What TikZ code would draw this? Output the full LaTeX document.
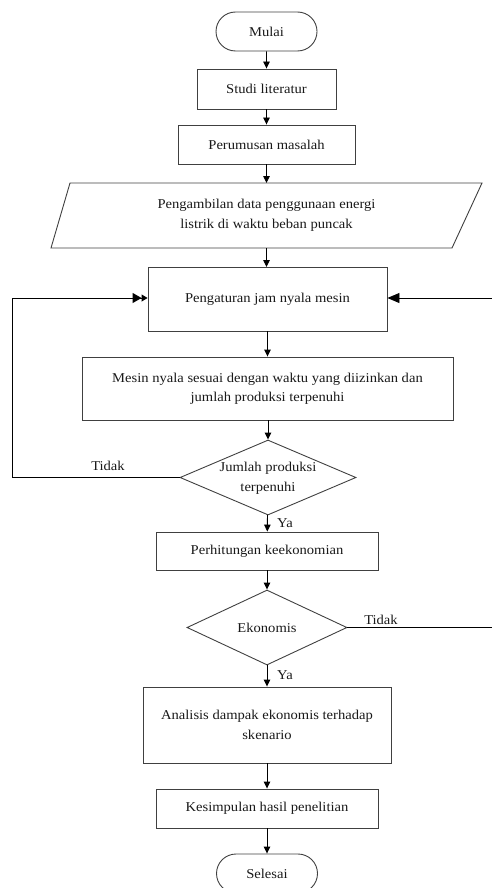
\documentclass[tikz,border=0pt]{standalone}
\usepackage{fontspec}
\setmainfont[FakeStretch=1.08]{Liberation Serif}
\usetikzlibrary{arrows.meta,shapes.geometric,shapes.misc}
\begin{document}
\begin{tikzpicture}[x=1pt,y=-1pt,
  every node/.style={font=\fontsize{13.5}{19.5}\selectfont, text=black!90},
  boxstyle/.style={draw=black!75, line width=0.9pt, rectangle, inner sep=0pt, align=center},
  termstyle/.style={draw=black!75, line width=0.9pt, rounded rectangle, inner sep=0pt, minimum width=101pt, minimum height=39pt},
  decstyle/.style={draw=black!75, line width=0.9pt, diamond, inner sep=0pt},
  flow/.style={draw=black, line width=0.9pt, -{Triangle[length=7pt,width=6.5pt]}},
  lbl/.style={font=\fontsize{13.5}{15}\selectfont}
]
\useasboundingbox (0,0) rectangle (491,888);

\node[termstyle] (mulai) at (266.5,31.5) {Mulai};
\node[boxstyle, minimum width=139pt, minimum height=40pt] (studi) at (266.5,89) {Studi literatur};
\node[boxstyle, minimum width=177pt, minimum height=39pt] (rumus) at (266.5,144.5) {Perumusan masalah};

\draw[draw=black!75, line width=0.9pt] (70,183) -- (482,183) -- (452,248) -- (51,248) -- cycle;
\node[inner sep=0pt, minimum width=380pt, minimum height=65pt, align=center] (data) at (266.5,215.5)
  {Pengambilan data penggunaan energi\\listrik di waktu beban puncak};

\node[boxstyle, minimum width=239pt, minimum height=64pt] (atur) at (267.5,299) {Pengaturan jam nyala mesin};
\node[boxstyle, minimum width=371pt, minimum height=63pt] (mesin) at (267.5,388.5)
  {Mesin nyala sesuai dengan waktu yang diizinkan dan\\jumlah produksi terpenuhi};
\node[decstyle, minimum width=176pt, minimum height=75pt] (d1) at (268,477.5) {};
\node[align=center, inner sep=0pt] (d1t) at (268,478) {Jumlah produksi\\terpenuhi};
\node[boxstyle, minimum width=222pt, minimum height=38pt] (hitung) at (267,551) {Perhitungan keekonomian};
\node[decstyle, minimum width=160pt, minimum height=75pt] (d2) at (267,627.5) {};
\node[inner sep=0pt] (d2t) at (267,627.5) {Ekonomis};
\node[boxstyle, minimum width=248pt, minimum height=76pt] (analisis) at (267,725)
  {Analisis dampak ekonomis terhadap\\skenario};
\node[boxstyle, minimum width=222pt, minimum height=39pt] (simpul) at (267,808.5) {Kesimpulan hasil penelitian};
\node[termstyle] (selesai) at (267,873.5) {Selesai};

\coordinate (lc1) at (12,477.5);
\coordinate (lc2) at (12,298);
\coordinate (rc1) at (496,627.5);
\coordinate (rc2) at (496,298);

\draw[flow] (mulai) -- (studi);
\draw[flow] (studi) -- (rumus);
\draw[flow] (rumus.south) -- (rumus.south |- 183,183);
\draw[flow] (266.5,248) -- (266.5,267);
\draw[flow] (atur) -- (mesin);
\draw[flow] (mesin.south -| d1.north) -- (d1.north);
\draw[flow] (d1) -- (hitung);
\draw[flow] (hitung) -- (d2);
\draw[flow] (d2) -- (analisis);
\draw[flow] (analisis) -- (simpul);
\draw[flow] (simpul) -- (selesai);

\draw[line width=0.9pt, -{Triangle[length=9pt,width=10pt]Triangle[length=6pt,width=7pt]}]
  (d1.west) -- (lc1) -- (lc2) -- (atur.west |- lc2);
\draw[line width=0.9pt, -{Triangle[length=12pt,width=10pt]}]
  (d2.east) -- (rc1) -- (rc2) -- (atur.east |- rc2);

\node[lbl] (tidak1) at (108,466) {Tidak};
\node[lbl] (ya1) at (285,523) {Ya};
\node[lbl] (tidak2) at (381,620) {Tidak};
\node[lbl] (ya2) at (285,675) {Ya};
\end{tikzpicture}
\end{document}
